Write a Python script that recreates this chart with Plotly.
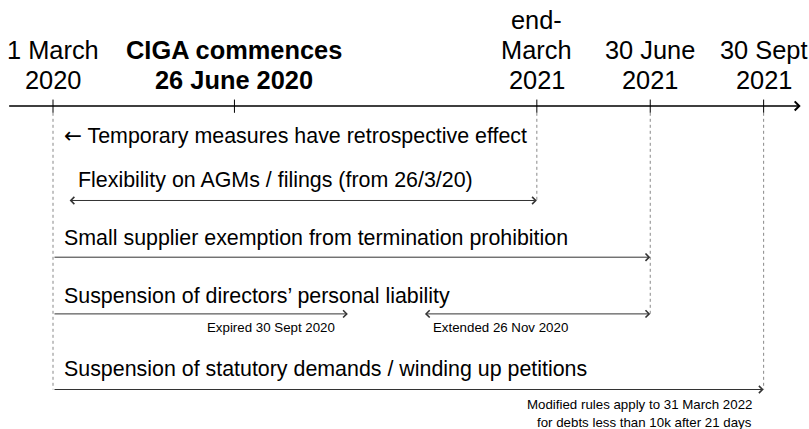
import plotly.graph_objects as go

# ---- data (schematic timeline, positions in cm along the axis) ----
event_labels = [["1 March", "2020"], ["<b>CIGA commences</b>", "<b>26 June 2020</b>"],
                ["end-", "March", "2021"], ["30 June", "2021"], ["30 Sept", "2021"]]
event_pos = [0.0, 4.8, 12.8, 15.8, 18.8]
dotted_events = [0.0, 12.8, 15.8, 18.8]
dotted_depth = [-7.5, -2.5, -5.5, -7.5]

measure_text = ['<span style="font-family:DejaVu Sans">←</span> Temporary measures have retrospective effect',
                "Flexibility on AGMs / filings (from 26/3/20)",
                "Small supplier exemption from termination prohibition",
                "Suspension of directors’ personal liability",
                "Suspension of statutory demands / winding up petitions"]
measure_text_x = [0.24, 0.62, 0.24, 0.24, 0.24]
measure_text_y = [-0.77, -1.96, -3.49, -5.03, -6.96]

span_start = [0.4, 0.0, 0.0, 9.8, 0.0]
span_end = [12.8, 15.8, 7.8, 15.8, 18.8]
span_y = [-2.5, -4.0, -5.5, -5.5, -7.5]
span_double = [True, False, False, True, False]

note_text = ["Expired 30 Sept 2020", "Extended 26 Nov 2020",
             "Modified rules apply to 31 March 2022", "for debts less than 10k after 21 days"]
note_x = [7.52, 10.0, 18.55, 18.55]
note_y = [-5.87, -5.87, -7.9, -8.36]
note_anchor = ["right", "left", "right", "right"]

axis_start, axis_end = -1.2, 19.78
label_base_y, label_line_gap = 0.69, 0.794

FONT = "Liberation Sans"
fig = go.Figure()
fig.add_trace(go.Scatter(x=[None], y=[None], showlegend=False))

shapes = []
annotations = []

# main axis with arrow
annotations.append(dict(x=axis_end, y=0, ax=axis_start, ay=0, xref="x", yref="y",
                        axref="x", ayref="y", text="", showarrow=True, arrowhead=4,
                        arrowsize=1.1, arrowwidth=1.6, arrowcolor="#000",
                        standoff=0, startstandoff=0))
# ticks
for p in event_pos:
    shapes.append(dict(type="line", x0=p, x1=p, y0=-0.18, y1=0.17, xref="x", yref="y",
                       line=dict(color="#000", width=1)))
# dotted drop lines
for p, d in zip(dotted_events, dotted_depth):
    shapes.append(dict(type="line", x0=p, x1=p, y0=-0.18, y1=d, xref="x", yref="y",
                       line=dict(color="#888", width=1, dash="dot")))
# header labels (one annotation per line)
for lines, p in zip(event_labels, event_pos):
    n = len(lines)
    for k, line in enumerate(lines):
        annotations.append(dict(x=p, y=label_base_y + (n - 1 - k) * label_line_gap,
                                xref="x", yref="y", text=line, showarrow=False,
                                xanchor="center", yanchor="middle",
                                font=dict(family=FONT, size=25.4, color="#000")))
# measure texts
for t, x, y in zip(measure_text, measure_text_x, measure_text_y):
    annotations.append(dict(x=x, y=y, xref="x", yref="y", text=t, showarrow=False,
                            xanchor="left", yanchor="middle",
                            font=dict(family=FONT, size=21.4, color="#000")))
# spans
for s, e, y, dbl in zip(span_start, span_end, span_y, span_double):
    annotations.append(dict(x=e, y=y, ax=s, ay=y, xref="x", yref="y", axref="x", ayref="y",
                            text="", showarrow=True, arrowhead=4, arrowsize=1.4,
                            arrowwidth=1, arrowcolor="#333",
                            arrowside="end+start" if dbl else "end",
                            startarrowhead=4, startarrowsize=1.4,
                            standoff=0, startstandoff=0))
# notes
for t, x, y, a in zip(note_text, note_x, note_y, note_anchor):
    annotations.append(dict(x=x, y=y, xref="x", yref="y", text=t, showarrow=False,
                            xanchor=a, yanchor="middle",
                            font=dict(family=FONT, size=13.3, color="#000")))

fig.update_layout(
    width=809, height=429, autosize=False,
    margin=dict(l=0, r=0, t=0, b=0),
    paper_bgcolor="white", plot_bgcolor="white",
    xaxis=dict(range=[-1.402, 20.0], visible=False, fixedrange=True),
    yaxis=dict(range=[-8.545, 2.804], visible=False, fixedrange=True),
    shapes=shapes, annotations=annotations, showlegend=False,
)
fig.write_html("out.html", config={"displayModeBar": False},
               post_script="document.body.style.margin='0';")
